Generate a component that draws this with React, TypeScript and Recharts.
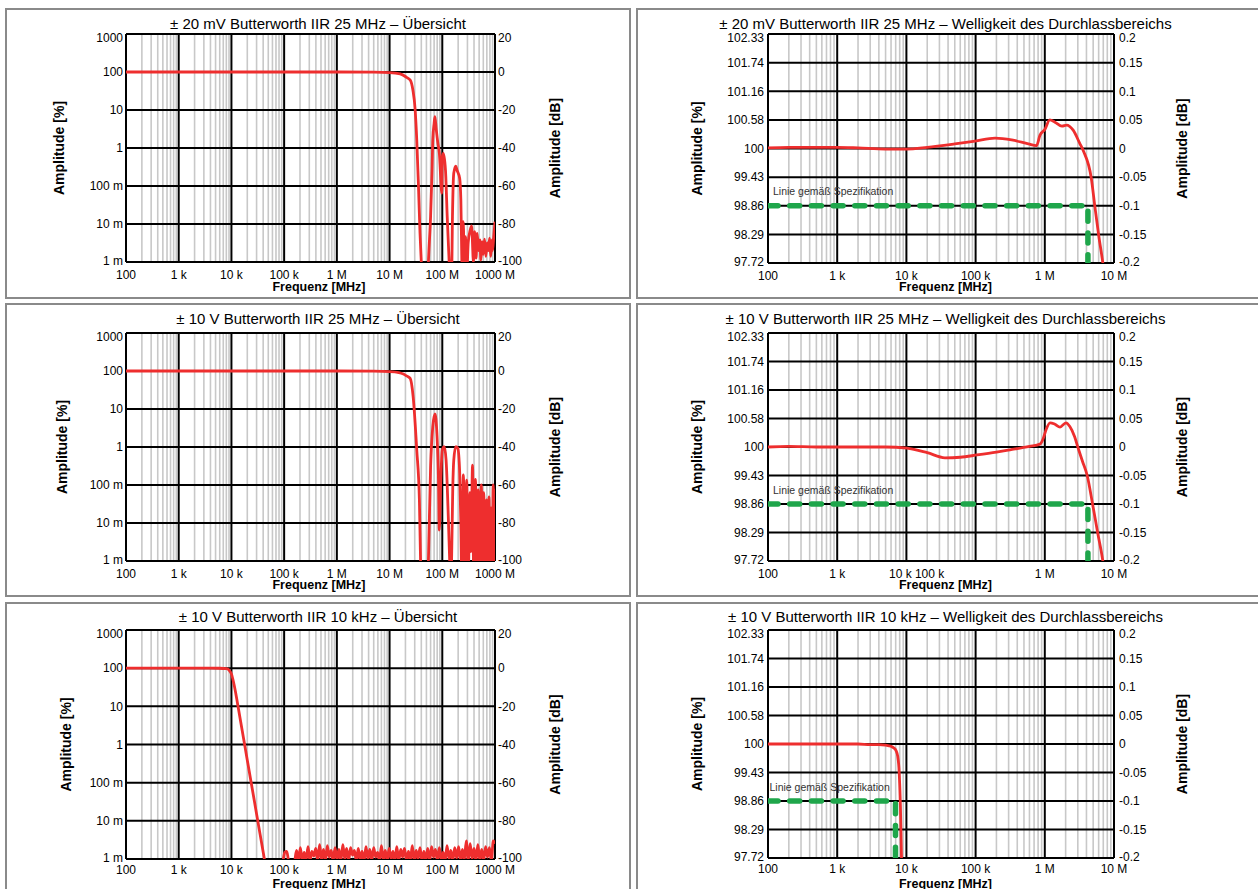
import React from 'react';
import { LineChart, Line, XAxis, YAxis, CartesianGrid, Label, ReferenceDot } from 'recharts';

type Pt = [number, number]; // [frequency, dB]

// axis ticks and labels
const overviewFreqTicks = [1e2, 1e3, 1e4, 1e5, 1e6, 1e7, 1e8, 1e9];
const overviewFreqLabels = ['100', '1 k', '10 k', '100 k', '1 M', '10 M', '100 M', '1000 M'];
const rippleFreqTicks = [1e2, 1e3, 1e4, 1e5, 1e6, 1e7];
const rippleFreqLabels = ['100', '1 k', '10 k', '100 k', '1 M', '10 M'];

const dbTicks = [20, 0, -20, -40, -60, -80, -100];
const percentLabels = ['1000', '100', '10', '1', '100 m', '10 m', '1 m'];
const dbLabels = ['20', '0', '-20', '-40', '-60', '-80', '-100'];

const rippleTicks = [0.2, 0.15, 0.1, 0.05, 0, -0.05, -0.1, -0.15, -0.2];
const ripplePercentLabels = ['102.33', '101.74', '101.16', '100.58', '100', '99.43', '98.86', '98.29', '97.72'];
const rippleDbLabels = ['0.2', '0.15', '0.1', '0.05', '0', '-0.05', '-0.1', '-0.15', '-0.2'];

// ± 20 mV, 25 MHz overview
const overview20mV: Pt[] = [
  [100, 0], [1e3, 0], [1e4, 0], [1e5, 0], [1e6, 0], [5e6, -0.1], [1e7, -0.3], [1.59e7, -1.0],
  [2.1e7, -2.8], [2.46e7, -4.2], [2.77e7, -9.5], [3.06e7, -20], [3.28e7, -35.8], [3.52e7, -58.6],
  [3.78e7, -84.9], [4.0e7, -100], [4.3e7, -118], [5.2e7, -118], [5.46e7, -100], [6.0e7, -76],
  [6.4e7, -51.6], [6.6e7, -35.8], [7.0e7, -27], [7.25e7, -23.5], [7.7e7, -30.5], [8.2e7, -37],
  [8.8e7, -42.8], [9.8e7, -63.8], [1.0e8, -44.6], [1.05e8, -42.8], [1.15e8, -51.6], [1.24e8, -76],
  [1.35e8, -100], [1.42e8, -115], [1.5e8, -110], [1.56e8, -76], [1.65e8, -53.3], [1.8e8, -49.5],
  [1.9e8, -51.6], [2.14e8, -56], [2.25e8, -67.4], [2.35e8, -100], [2.4e8, -112], [2.5e8, -78.8],
  [2.63e8, -105], [2.77e8, -86.7], [2.9e8, -108], [3.1e8, -90], [3.4e8, -83], [3.6e8, -81],
  [3.9e8, -100], [4.1e8, -84], [4.37e8, -98], [4.6e8, -85], [4.86e8, -94], [5.17e8, -88.4],
  [5.4e8, -99], [5.7e8, -89.3], [6.0e8, -96], [6.33e8, -88], [6.7e8, -97], [7.1e8, -90],
  [7.5e8, -94], [7.9e8, -87.5], [8.3e8, -97], [8.8e8, -88.4], [9.0e8, -94], [9.5e8, -86], [1.0e9, -78.8],
];

// ± 10 V, 25 MHz overview
const overview10V: Pt[] = [
  [100, 0], [1e3, 0], [1e4, 0], [1e5, 0], [1e6, 0], [5e6, -0.1], [1e7, -0.3], [1.5e7, -0.8],
  [1.83e7, -1.6], [2.1e7, -2.6], [2.46e7, -3.9], [2.8e7, -13.5], [3.28e7, -41.6], [3.68e7, -68],
  [3.87e7, -99.5], [4.1e7, -118], [5.2e7, -118], [5.46e7, -99.5], [6.0e7, -50.4], [6.6e7, -29.3],
  [7.25e7, -22.6], [7.9e7, -32.8], [8.5e7, -59], [8.78e7, -83.7], [9.3e7, -60], [1.0e8, -41.6],
  [1.09e8, -39.8], [1.18e8, -46.8], [1.3e8, -76.7], [1.38e8, -99.5], [1.44e8, -115], [1.5e8, -100],
  [1.58e8, -62], [1.65e8, -47], [1.8e8, -39.8], [1.97e8, -40.7], [2.14e8, -53.7], [2.25e8, -80],
  [2.35e8, -112], [2.43e8, -75], [2.51e8, -54.7], [2.7e8, -110], [2.9e8, -57.4], [3.1e8, -110],
  [3.35e8, -64], [3.5e8, -95], [3.75e8, -49.6], [3.95e8, -110], [4.25e8, -57], [4.55e8, -105],
  [4.8e8, -62.6], [5.1e8, -110], [5.5e8, -60], [5.8e8, -100], [6.1e8, -64], [6.5e8, -110],
  [6.9e8, -67.9], [7.3e8, -110], [7.7e8, -66.2], [8.0e8, -108], [8.4e8, -72], [8.8e8, -110],
  [9.25e8, -60], [9.6e8, -100], [1.0e9, -62],
];

// ± 10 V, 10 kHz overview (roll-off, then noise floor)
const overview10k: Pt[] = [
  [100, 0], [1e3, 0], [3e3, 0], [6e3, -0.05], [8e3, -0.3], [9e3, -1], [1e4, -3], [1.1e4, -7.5],
  [1.2e4, -12.7], [1.3e4, -18.2], [1.4e4, -23.4], [1.6e4, -32.7], [1.8e4, -40.8], [2e4, -48.2],
  [2.5e4, -63.7], [3e4, -76.4], [3.5e4, -87.1], [4e4, -96.3], [4.5e4, -104.5], [5e4, -112],
  [7e4, -115], [9.5e4, -101], [1.03e5, -96.5], [1.12e5, -96], [1.22e5, -101], [1.33e5, -102],
  [1.45e5, -102], [1.58e5, -101], [1.72e5, -95.5], [1.87e5, -101], [2.03e5, -94], [2.21e5, -101],
  [2.4e5, -96.5], [2.61e5, -100.5], [2.84e5, -93.5], [3.09e5, -101], [3.36e5, -96], [3.66e5, -98.5],
  [3.98e5, -94.5], [4.33e5, -101], [4.71e5, -92.5], [5.13e5, -100.5], [5.58e5, -95], [6.07e5, -101],
  [6.6e5, -93], [7.18e5, -99], [7.81e5, -95.5], [8.5e5, -101], [9.25e5, -94], [1.006e6, -100.5],
  [1.095e6, -95], [1.19e6, -101], [1.3e6, -92.5], [1.41e6, -100], [1.53e6, -94.5], [1.67e6, -101],
  [1.82e6, -94], [1.98e6, -98], [2.15e6, -95.5], [2.34e6, -101], [2.55e6, -94.5], [2.77e6, -100.5],
  [3.01e6, -96], [3.28e6, -101], [3.57e6, -93.5], [3.88e6, -100], [4.22e6, -95], [4.59e6, -101],
  [5.0e6, -94], [5.44e6, -99], [5.92e6, -96.5], [6.44e6, -101], [7.0e6, -93], [7.62e6, -100.5],
  [8.29e6, -95.5], [9.02e6, -101], [9.81e6, -94.5], [1.07e7, -100], [1.16e7, -96], [1.26e7, -101],
  [1.37e7, -93.5], [1.49e7, -101], [1.63e7, -95], [1.77e7, -99], [1.92e7, -94.5], [2.09e7, -101],
  [2.28e7, -96], [2.48e7, -100.5], [2.7e7, -93], [2.93e7, -101], [3.19e7, -95.5], [3.47e7, -100],
  [3.78e7, -94], [4.11e7, -101], [4.47e7, -96], [4.87e7, -100.5], [5.29e7, -94.5], [5.76e7, -101],
  [6.27e7, -93.5], [6.82e7, -99], [7.42e7, -95], [8.07e7, -101], [8.78e7, -94], [9.55e7, -100.5],
  [1.04e8, -96.5], [1.13e8, -101], [1.23e8, -93], [1.34e8, -100], [1.45e8, -95.5], [1.58e8, -101],
  [1.72e8, -94], [1.87e8, -99.5], [2.04e8, -93.5], [2.22e8, -101], [2.41e8, -95], [2.62e8, -100.5],
  [2.85e8, -90.5], [3.1e8, -101], [3.38e8, -92], [3.67e8, -100], [4.0e8, -94.5], [4.35e8, -101],
  [4.73e8, -92.5], [5.15e8, -100.5], [5.6e8, -95], [6.09e8, -101], [6.63e8, -93.5], [7.21e8, -99],
  [7.84e8, -94], [8.53e8, -101], [9.28e8, -90.5], [1.0e9, -92],
];

// pass-band ripple curves
const ripple20mV: Pt[] = [
  [100, 0.001], [200, 0.002], [500, 0.002], [1e3, 0.002], [2e3, 0.001], [5e3, -0.001], [1e4, -0.001],
  [2e4, 0.002], [5e4, 0.008], [9.8e4, 0.013], [1.91e5, 0.018], [3.32e5, 0.015], [5.79e5, 0.008],
  [7.6e5, 0.005], [8.5e5, 0.023], [1.0e6, 0.033], [1.18e6, 0.05], [1.4e6, 0.046], [1.77e6, 0.039],
  [2.07e6, 0.041], [2.57e6, 0.032], [3.2e6, 0.009], [3.6e6, -0.004], [4.7e6, -0.052], [5.3e6, -0.102],
  [6.0e6, -0.151], [6.9e6, -0.2], [7.6e6, -0.24],
];
const ripple10V: Pt[] = [
  [100, 0], [200, 0.001], [500, 0], [1e3, 0], [2e3, 0], [5e3, 0], [1.02e4, -0.002], [2e4, -0.01],
  [3.6e4, -0.019], [6e4, -0.018], [1.05e5, -0.014], [2e5, -0.009], [3.14e5, -0.005], [6e5, 0.001],
  [8.5e5, 0.005], [9.5e5, 0.015], [1.04e6, 0.03], [1.19e6, 0.0425], [1.4e6, 0.04], [1.66e6, 0.035],
  [2.02e6, 0.0425], [2.3e6, 0.036], [2.7e6, 0.018], [3.0e6, 0], [3.5e6, -0.025], [4.1e6, -0.05],
  [4.9e6, -0.1], [5.8e6, -0.15], [6.9e6, -0.2], [7.6e6, -0.24],
];
const ripple10k: Pt[] = [
  [100, 0], [200, 0], [500, 0], [1e3, 0], [2e3, 0], [3e3, -0.001], [4e3, -0.001], [5e3, -0.002],
  [6e3, -0.004], [6.6e3, -0.007], [7.1e3, -0.012], [7.5e3, -0.022], [7.8e3, -0.042], [8e3, -0.07],
  [8.2e3, -0.11], [8.35e3, -0.155], [8.5e3, -0.2], [8.65e3, -0.25],
];

// specification lines
const spec25MHz: Pt[] = [[100, -0.1], [4.2e6, -0.1], [4.2e6, -0.2]];
const spec10kHz: Pt[] = [[100, -0.1], [6950, -0.1], [6950, -0.2]];

const minorTicks = (decades: number[]) =>
  decades.slice(0, -1).flatMap((d) => [2, 3, 4, 5, 6, 7, 8, 9].map((m) => m * d));

interface Box { left: number; top: number; width: number; height: number }
interface Plot { x0: number; x1: number; y0: number; y1: number }

interface PanelProps {
  kind: 'overview' | 'ripple';
  title: string;
  box: Box;
  plot: Plot;
  titleX: number;
  titleY: number;
  leftLabelX: number;
  rightLabelX: number;
  freqX: number;
  freqY: number;
  xTickMargin?: number;
  curve: Pt[];
  spec?: Pt[];
  specDx?: number;
  tickShift?: Record<number, number>;
}

const VText = ({ x, y, text }: { x: number; y: number; text: string }) => (
  <text x={x} y={y} dy="0.355em" transform={`rotate(-90 ${x} ${y})`} textAnchor="middle" fontSize={14} fontWeight="bold" fill="#000">
    {text}
  </text>
);

const Panel = (p: PanelProps) => {
  const cx = p.box.left + 2;
  const cy = p.box.top + 2;
  const cw = p.box.width - 4;
  const ch = p.box.height - 4;
  const ov = p.kind === 'overview';
  const fTicks = ov ? overviewFreqTicks : rippleFreqTicks;
  const fLabels = ov ? overviewFreqLabels : rippleFreqLabels;
  const yTicks = ov ? dbTicks : rippleTicks;
  const yLeft = ov ? percentLabels : ripplePercentLabels;
  const yRight = ov ? dbLabels : rippleDbLabels;
  const shift = p.tickShift ?? {};
  const midY = (p.plot.y0 + p.plot.y1) / 2 - cy;

  const curve = p.curve.map(([f, db]) => ({ f, db }));
  const spec = p.spec ? p.spec.map(([f, db]) => ({ f, db })) : null;

  const yDomain = [yTicks[yTicks.length - 1], yTicks[0]];

  // end labels are nudged inside the frame
  const yTick = (labels: string[]) => (t: any) => {
    const v = t.payload.value;
    const nudge = v === yTicks[0] ? 3.5 : v === yTicks[yTicks.length - 1] ? -1.5 : 0;
    return (
      <text x={t.x} y={t.y + nudge} dy="0.355em" textAnchor={t.textAnchor} fontSize={12} fill="#000">
        {labels[yTicks.indexOf(v)]}
      </text>
    );
  };

  return (
    <>
      <div
        style={{
          position: 'absolute',
          left: p.box.left,
          top: p.box.top,
          width: p.box.width - 4,
          height: p.box.height - 4,
          border: '2px solid #8a8a8a',
        }}
      />
      <div
        style={{
          position: 'absolute',
          left: p.titleX - 350,
          width: 700,
          top: p.titleY - 12.7,
          textAlign: 'center',
          fontSize: 15,
          lineHeight: '15px',
          whiteSpace: 'nowrap',
        }}
      >
        {p.title}
      </div>
      <div style={{ position: 'absolute', left: cx, top: cy }}>
        <LineChart width={cw} height={ch} margin={{ top: p.plot.y0 - cy, right: 0, bottom: 0, left: 0 }}>
          <CartesianGrid horizontal={false} verticalValues={minorTicks(fTicks)} stroke="#c8c8c8" strokeWidth={1.6} />
          <CartesianGrid horizontalValues={yTicks} verticalValues={fTicks} stroke="#000" strokeWidth={2} />
          <XAxis
            dataKey="f"
            type="number"
            scale="log"
            domain={[fTicks[0], fTicks[fTicks.length - 1]]}
            ticks={fTicks}
            interval={0}
            allowDataOverflow
            axisLine={false}
            tickLine={false}
            tickSize={0}
            tickMargin={p.xTickMargin ?? 8}
            height={cy + ch - p.plot.y1}
            tick={(t: any) => (
              <text x={t.x + (shift[t.payload.value] ?? 0)} y={t.y} dy="0.71em" textAnchor="middle" fontSize={12} fill="#000">
                {fLabels[fTicks.indexOf(t.payload.value)]}
              </text>
            )}
          >
            <Label
              content={() => (
                <text x={p.freqX - cx} y={p.freqY - cy} textAnchor="middle" fontSize={12.5} fontWeight="bold" fill="#000">
                  Frequenz [MHz]
                </text>
              )}
            />
          </XAxis>
          <YAxis
            type="number"
            domain={yDomain}
            ticks={yTicks}
            interval={0}
            allowDataOverflow
            width={p.plot.x0 - cx}
            axisLine={false}
            tickLine={false}
            tickSize={0}
            tickMargin={ov ? 3 : 4}
            tick={yTick(yLeft)}
          >
            <Label content={() => <VText x={p.leftLabelX - cx} y={midY} text="Amplitude [%]" />} />
          </YAxis>
          <YAxis
            yAxisId="r"
            orientation="right"
            type="number"
            domain={yDomain}
            ticks={yTicks}
            interval={0}
            allowDataOverflow
            width={cx + cw - p.plot.x1}
            axisLine={false}
            tickLine={false}
            tickSize={0}
            tickMargin={ov ? 3 : 5}
            tick={yTick(yRight)}
          >
            <Label content={() => <VText x={p.rightLabelX - cx} y={midY} text="Amplitude [dB]" />} />
          </YAxis>
          <Line
            data={curve}
            dataKey="db"
            type="monotone"
            stroke="#ee2e2e"
            strokeWidth={2.8}
            dot={false}
            activeDot={false}
            isAnimationActive={false}
          />
          {spec && (
            <Line
              data={spec}
              dataKey="db"
              type="linear"
              stroke="#1fa64b"
              strokeWidth={5.5}
              strokeDasharray="10 11.7"
              strokeLinecap="round"
              dot={false}
              activeDot={false}
              isAnimationActive={false}
            />
          )}
          {spec && (
            <ReferenceDot x={spec[0].f} y={spec[0].db} r={0} fill="none" stroke="none">
              <Label
                content={(l: any) =>
                  l.viewBox ? (
                    <text x={l.viewBox.x + (p.specDx ?? 5)} y={l.viewBox.y - 10.5} fontSize={10.5} fill="#333">
                      Linie gemäß Spezifikation
                    </text>
                  ) : null
                }
              />
            </ReferenceDot>
          )}
        </LineChart>
      </div>
    </>
  );
};

const leftCol = { left: 5, width: 626 };
const rightCol = { left: 636, width: 630 };
const rows = [
  { top: 8, height: 291 },
  { top: 303, height: 294 },
  { top: 602, height: 300 },
];

export default function App() {
  return (
    <div
      style={{
        position: 'absolute',
        left: 0,
        top: 0,
        width: 1258,
        height: 889,
        overflow: 'hidden',
        background: '#fff',
        color: '#000',
        fontFamily: "'Liberation Sans', Arial, sans-serif",
      }}
    >
      <Panel
        kind="overview"
        title="± 20 mV Butterworth IIR 25 MHz – Übersicht"
        box={{ ...leftCol, ...rows[0] }}
        plot={{ x0: 126, x1: 495, y0: 34, y1: 262 }}
        titleX={318}
        titleY={28.5}
        leftLabelX={59.5}
        rightLabelX={555.5}
        freqX={319}
        freqY={291}
        curve={overview20mV}
      />
      <Panel
        kind="overview"
        title="± 10 V Butterworth IIR 25 MHz – Übersicht"
        box={{ ...leftCol, ...rows[1] }}
        plot={{ x0: 126, x1: 495, y0: 333, y1: 561 }}
        titleX={318}
        titleY={323.5}
        leftLabelX={62}
        rightLabelX={555.5}
        freqX={319}
        freqY={589}
        curve={overview10V}
      />
      <Panel
        kind="overview"
        title="± 10 V Butterworth IIR 10 kHz – Übersicht"
        box={{ ...leftCol, ...rows[2] }}
        plot={{ x0: 126, x1: 495, y0: 630, y1: 859 }}
        titleX={318}
        titleY={621.5}
        leftLabelX={66}
        rightLabelX={555.5}
        freqX={319}
        freqY={887.5}
        xTickMargin={6.5}
        curve={overview10k}
      />
      <Panel
        kind="ripple"
        title="± 20 mV Butterworth IIR 25 MHz – Welligkeit des Durchlassbereichs"
        box={{ ...rightCol, ...rows[0] }}
        plot={{ x0: 768, x1: 1114, y0: 34, y1: 263 }}
        titleX={945.5}
        titleY={28.5}
        leftLabelX={697}
        rightLabelX={1182}
        freqX={945.5}
        freqY={291}
        curve={ripple20mV}
        spec={spec25MHz}
        specDx={5}
      />
      <Panel
        kind="ripple"
        title="± 10 V Butterworth IIR 25 MHz – Welligkeit des Durchlassbereichs"
        box={{ ...rightCol, ...rows[1] }}
        plot={{ x0: 768, x1: 1114, y0: 333, y1: 561 }}
        titleX={945.5}
        titleY={323.5}
        leftLabelX={697}
        rightLabelX={1182}
        freqX={945.5}
        freqY={589}
        curve={ripple10V}
        spec={spec25MHz}
        specDx={5}
        tickShift={{ 10000: -6, 100000: -46 }}
      />
      <Panel
        kind="ripple"
        title="± 10 V Butterworth IIR 10 kHz – Welligkeit des Durchlassbereichs"
        box={{ ...rightCol, ...rows[2] }}
        plot={{ x0: 768, x1: 1114, y0: 630, y1: 858 }}
        titleX={945.5}
        titleY={621.5}
        leftLabelX={697}
        rightLabelX={1182}
        freqX={945.5}
        freqY={887.5}
        xTickMargin={6.5}
        curve={ripple10k}
        spec={spec10kHz}
        specDx={1.5}
      />
    </div>
  );
}
